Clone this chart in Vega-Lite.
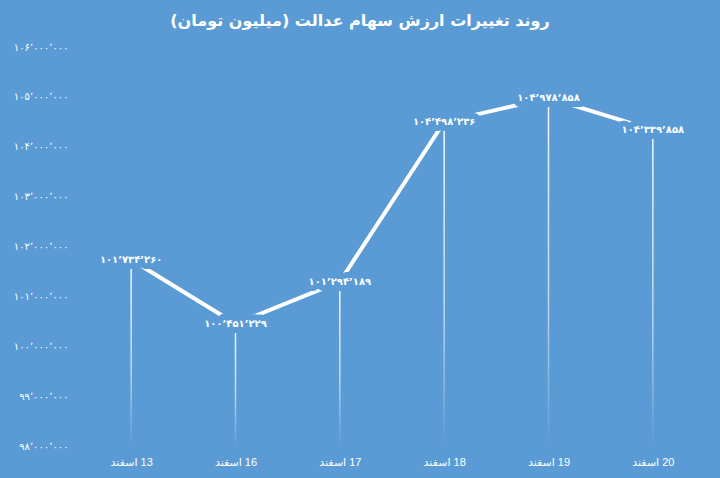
{
  "$schema": "https://vega.github.io/schema/vega-lite/v6.json",
  "width": 626,
  "height": 399,
  "autosize": {"type": "none"},
  "padding": {"left": 79, "top": 47, "right": 15, "bottom": 32},
  "background": "#5b9bd5",
  "title": {
    "text": "روند تغییرات ارزش سهام عدالت (میلیون تومان)‏",
    "color": "white",
    "font": "DejaVu Sans",
    "fontSize": 16,
    "fontWeight": "bold",
    "anchor": "middle",
    "dx": -32,
    "offset": 13
  },
  "config": {
    "view": {"stroke": null},
    "locale": {
      "number": {
        "decimal": "٫",
        "thousands": "٬",
        "grouping": [3],
        "currency": ["", ""],
        "numerals": ["۰", "۱", "۲", "۳", "۴", "۵", "۶", "۷", "۸", "۹"]
      }
    }
  },
  "data": {
    "values": [
      {"day": "13", "value": 101734260},
      {"day": "16", "value": 100451229},
      {"day": "17", "value": 101294189},
      {"day": "18", "value": 104498236},
      {"day": "19", "value": 104978858},
      {"day": "20", "value": 104339858}
    ]
  },
  "encoding": {
    "x": {
      "field": "day",
      "type": "ordinal",
      "scale": {"type": "point", "padding": 0.5},
      "axis": {
        "title": null,
        "domain": false,
        "ticks": false,
        "grid": false,
        "labelAngle": 0,
        "labelColor": "white",
        "labelFont": "Liberation Sans, DejaVu Sans",
        "labelFontSize": 11,
        "labelPadding": 10,
        "labelExpr": "'اسفند‎ ' + datum.label"
      }
    },
    "y": {
      "field": "value",
      "type": "quantitative",
      "scale": {"domain": [98000000, 106000000], "nice": false, "zero": false},
      "axis": {
        "title": null,
        "domain": false,
        "ticks": false,
        "grid": false,
        "values": [98000000, 99000000, 100000000, 101000000, 102000000, 103000000, 104000000, 105000000, 106000000],
        "format": ",.0f",
        "labelColor": "white",
        "labelFont": "DejaVu Sans",
        "labelFontSize": 10,
        "labelPadding": 11
      }
    }
  },
  "layer": [
    {
      "mark": {
        "type": "bar",
        "size": 1.5,
        "color": {
          "gradient": "linear",
          "x1": 0, "y1": 0, "x2": 0, "y2": 1,
          "stops": [
            {"offset": 0, "color": "rgba(255,255,255,0.95)"},
            {"offset": 0.6, "color": "rgba(255,255,255,0.6)"},
            {"offset": 1, "color": "rgba(255,255,255,0)"}
          ]
        }
      },
      "encoding": {"y2": {"datum": 98000000}}
    },
    {
      "mark": {"type": "line", "color": "white", "strokeWidth": 4},
      "encoding": {}
    },
    {
      "mark": {
        "type": "text",
        "font": "DejaVu Sans",
        "fontSize": 10,
        "fontWeight": "bold",
        "fill": "#5b9bd5",
        "stroke": "#5b9bd5",
        "strokeWidth": 12,
        "strokeJoin": "round"
      },
      "encoding": {"text": {"field": "value", "type": "quantitative", "format": ",.0f"}}
    },
    {
      "mark": {
        "type": "text",
        "font": "DejaVu Sans",
        "fontSize": 10,
        "fontWeight": "bold",
        "fill": "white"
      },
      "encoding": {"text": {"field": "value", "type": "quantitative", "format": ",.0f"}}
    }
  ]
}
